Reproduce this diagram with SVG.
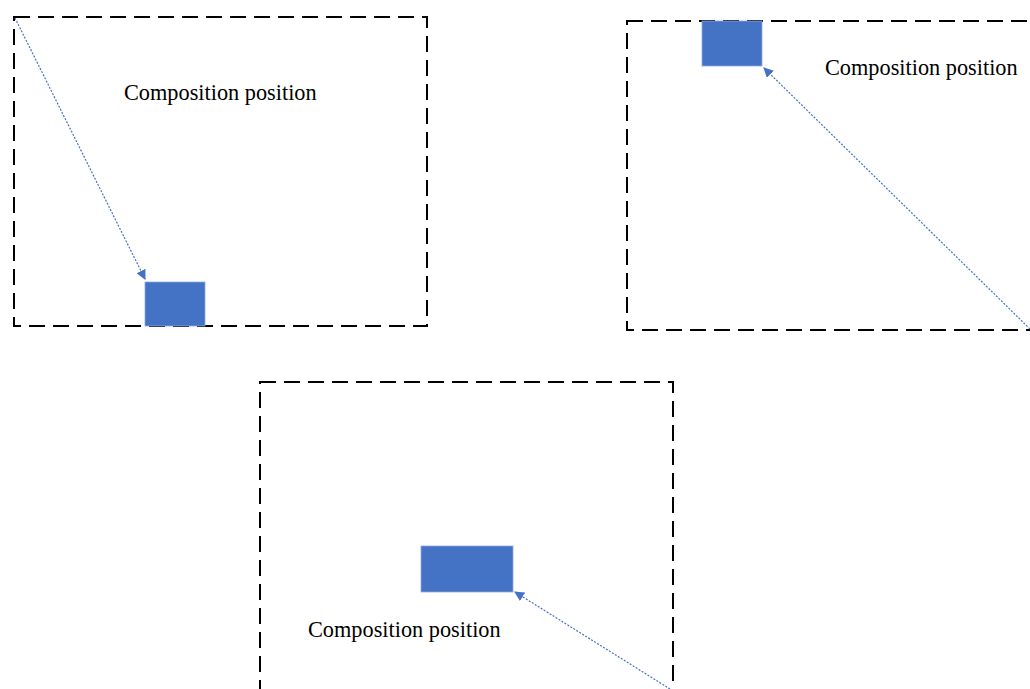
<svg xmlns="http://www.w3.org/2000/svg" width="1030" height="689" viewBox="0 0 1030 689">
<style>
.frame{fill:none;stroke:#000;stroke-width:2;stroke-dasharray:16 8}
.blk{fill:#4472C4;stroke:#8FAADC;stroke-width:0.8}
.conn{stroke:#4472C4;stroke-width:1.2;stroke-dasharray:2 1.5;fill:none;marker-end:url(#ah)}
.lbl{font-family:"Liberation Serif","Times New Roman",serif;font-size:22.3px;fill:#000}
</style>
<defs>
<marker id="ah" viewBox="0 0 10 10" refX="9" refY="5" markerWidth="10" markerHeight="10" markerUnits="userSpaceOnUse" orient="auto">
<path d="M0,0 L10,5 L0,10 Z" fill="#4472C4"/>
</marker>
</defs>
<g id="frame1"><rect class="frame" x="14" y="17" width="413" height="309"/></g>
<g id="frame2"><rect class="frame" x="627" y="21" width="413" height="309"/></g>
<g id="frame3"><rect class="frame" x="260" y="382" width="413" height="320"/></g>
<g id="block1"><rect class="blk" x="145" y="282" width="60" height="44"/></g>
<g id="block2"><rect class="blk" x="702" y="21" width="60" height="45"/></g>
<g id="block3"><rect class="blk" x="421" y="546" width="92" height="46"/></g>
<g id="label1"><text class="lbl" x="124" y="100">Composition position</text></g>
<g id="label2"><text class="lbl" x="825" y="75">Composition position</text></g>
<g id="label3"><text class="lbl" x="308" y="637">Composition position</text></g>
<g id="connectors">
<line class="conn" x1="15" y1="18" x2="145" y2="279"/>
<line class="conn" x1="1030" y1="329" x2="764" y2="68"/>
<line class="conn" x1="670" y1="689" x2="515" y2="592"/>
</g>
</svg>
